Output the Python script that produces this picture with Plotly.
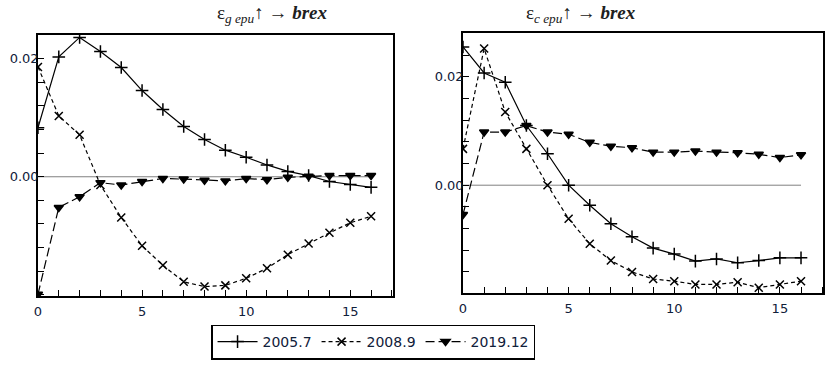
import plotly.graph_objects as go

periods = list(range(17))
series_names = ["2005.7", "2008.9", "2019.12"]

# Left panel: epsilon_gepu shock -> brex
left_2005_7 = [0.0083, 0.0203, 0.0236, 0.0212, 0.0185, 0.0146, 0.0114, 0.0085, 0.0063,
               0.0045, 0.0033, 0.0020, 0.0009, 0.0002, -0.0008, -0.0013, -0.0018]
left_2008_9 = [0.0186, 0.0103, 0.0071, -0.0014, -0.0069, -0.0117, -0.0150, -0.0178, -0.0186,
               -0.0184, -0.0172, -0.0155, -0.0132, -0.0113, -0.0095, -0.0078, -0.0067]
left_2019_12 = [-0.0199, -0.0052, -0.0034, -0.0010, -0.0014, -0.0008, -0.0003, -0.0004, -0.0006,
                -0.0007, -0.0003, -0.0005, -0.0001, 0.0001, 0.0002, 0.0002, 0.0002]

# Right panel: epsilon_cepu shock -> brex
right_2005_7 = [0.0255, 0.0207, 0.0190, 0.0110, 0.0058, 0.0000, -0.0037, -0.0071, -0.0095,
                -0.0116, -0.0127, -0.0140, -0.0136, -0.0143, -0.0139, -0.0134, -0.0134]
right_2008_9 = [0.0067, 0.0252, 0.0135, 0.0067, 0.0000, -0.0062, -0.0108, -0.0139, -0.0160,
                -0.0173, -0.0177, -0.0183, -0.0183, -0.0179, -0.0189, -0.0183, -0.0177]
right_2019_12 = [-0.0054, 0.0098, 0.0098, 0.0110, 0.0098, 0.0094, 0.0079, 0.0072, 0.0069,
                 0.0061, 0.0061, 0.0063, 0.0061, 0.0060, 0.0057, 0.0051, 0.0056]

titles = ["ε<sub><i>g epu</i></sub>↑ → <b><i>brex</i></b>",
          "ε<sub><i>c epu</i></sub>↑ → <b><i>brex</i></b>"]

y_major = [0.0, 0.02]
y_major_text = ["0.00", "0.02"]
y_minor = [-0.02, -0.016, -0.012, -0.008, -0.004, 0.004, 0.008, 0.012, 0.016, 0.024, 0.028]

styles = [
    dict(dash="solid", symbol="cross-thin", size=9),
    dict(dash="4px,3px", symbol="x-thin", size=8),
    dict(dash="9px,4px", symbol="triangle-down", size=8),
]

fig = go.Figure()
panels = [("x", "y", [left_2005_7, left_2008_9, left_2019_12]),
          ("x2", "y2", [right_2005_7, right_2008_9, right_2019_12])]

for pi, (xa, ya, data) in enumerate(panels):
    for si, vals in enumerate(data):
        st = styles[si]
        fig.add_trace(go.Scatter(
            x=periods, y=vals, xaxis=xa, yaxis=ya, mode="lines+markers",
            name=series_names[si], showlegend=(pi == 0),
            line=dict(color="black", width=1.2, dash=st["dash"]),
            marker=dict(symbol=st["symbol"], size=st["size"], color="black",
                        line=dict(color="black", width=1.5)),
        ))
    fig.add_shape(type="line", xref=xa, yref=ya, x0=periods[0], x1=periods[-1], y0=0, y1=0,
                  line=dict(color="#808080", width=1), layer="below")

axis_common = dict(showgrid=False, zeroline=False, showline=True, mirror=True,
                   linecolor="black", linewidth=1.5, ticks="inside", ticklen=6,
                   tickcolor="black", tickwidth=1,
                   tickfont=dict(family="DejaVu Sans", size=13, color="#10203a"))
minor_common = dict(ticks="inside", ticklen=6, tickcolor="black", tickwidth=1, showgrid=False)

xaxis_cfg = dict(range=[0, 17.05], tick0=0, dtick=5, ticklabelstandoff=3,
                 minor=dict(dtick=1, **minor_common), **axis_common)
yaxis_cfg = dict(tickmode="array", tickvals=y_major, ticktext=y_major_text, ticklabelstandoff=-5,
                 minor=dict(tickmode="array", tickvals=y_minor, **minor_common), **axis_common)

fig.update_layout(
    width=829, height=365,
    margin=dict(l=0, r=0, t=0, b=0, autoexpand=False),
    paper_bgcolor="white", plot_bgcolor="white",
    xaxis=dict(domain=[0.0458, 0.4740], anchor="y", **xaxis_cfg),
    yaxis=dict(domain=[0.189, 0.904], range=[-0.0202, 0.024], anchor="x", **yaxis_cfg),
    xaxis2=dict(domain=[0.5585, 0.9930], anchor="y2", **xaxis_cfg),
    yaxis2=dict(domain=[0.197, 0.910], range=[-0.0199, 0.0281], anchor="x2", **yaxis_cfg),
    legend=dict(orientation="h", x=0.45, xanchor="center", y=0.063, yanchor="middle",
                bordercolor="black", borderwidth=1.5, bgcolor="white",
                font=dict(family="DejaVu Sans", size=14, color="#10203a"),
                itemwidth=40, tracegroupgap=0),
    annotations=[
        dict(text=titles[0], x=0.2594, y=1.0, xref="paper", yref="paper", yanchor="top",
             showarrow=False, font=dict(family="Liberation Serif", size=19, color="#202020")),
        dict(text=titles[1], x=0.7696, y=1.0, xref="paper", yref="paper", yanchor="top",
             showarrow=False, font=dict(family="Liberation Serif", size=19, color="#202020")),
    ],
)

fig.write_html("out.html", config={"displayModeBar": False},
               post_script="document.body.style.margin='0';")
